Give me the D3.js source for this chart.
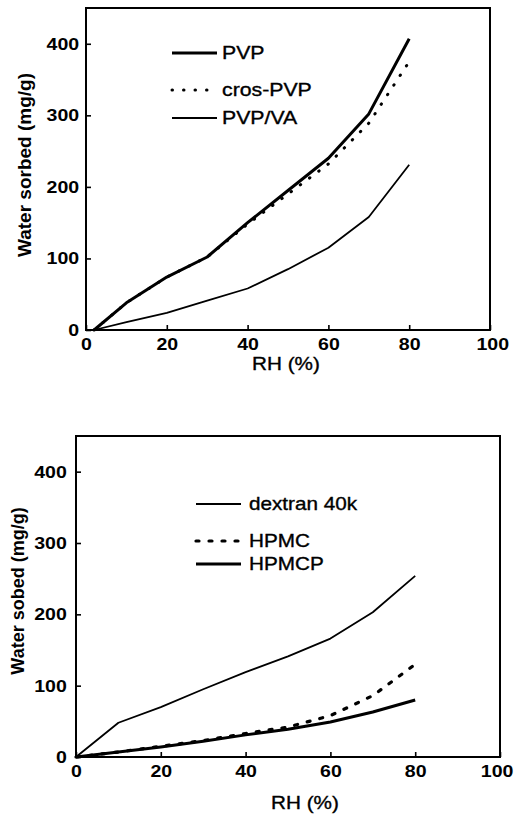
<!DOCTYPE html>
<html>
<head>
<meta charset="utf-8">
<script src="https://cdn.jsdelivr.net/npm/d3@7"></script>
<style>
    body { margin: 0; background: #fff; }
    svg text { font-family: "Liberation Sans", Arial, sans-serif; fill: #000; }
</style>
</head>
<body>
<svg id="chart" width="515" height="821"></svg>
<script>
// values
const rhTop = [2, 10, 20, 30, 40, 50, 60, 70, 80];
const pvp = [0, 38, 74, 102, 150, 195, 240, 302, 407];
const crosPvp = [0, 38, 74, 102, 148, 190, 232, 289, 375];
const pvpVa = [0, 11, 24, 41, 58, 85, 115, 158, 231];

const rhBottom = [0, 10, 20, 30, 40, 50, 60, 70, 80];
const dextran = [0, 48, 70, 95, 119, 141, 166, 203, 254];
const hpmc = [0, 7, 15, 23, 33, 42, 58, 86, 130];
const hpmcp = [0, 7, 14, 22, 31, 39, 49, 63, 80];

const xTicks = [0, 20, 40, 60, 80, 100];
const yTicks = [0, 100, 200, 300, 400];

const STRETCH = 1.15; // the scan is a bit wider than it is tall

let lineStyles = {
    thick: {width: 3, dash: null, cap: "butt"},
    thin: {width: 1.8, dash: null, cap: "butt"},
    dots: {width: 3, dash: "0.5,11", cap: "round"},
    dashes: {width: 3.2, dash: "3,10", cap: "round"}
};

class SorptionPanel {

    constructor (svg, opts) {
        this.svg = svg;
        this.opts = opts;
        this.draw();
    }

    draw () {
        let o = this.opts;
        let g = this.svg.append("g");

        let x = d3.scaleLinear().domain([0, 100]).range([o.left, o.right]);
        let y = d3.scaleLinear().domain([0, 450]).range([o.bottom, o.top]);

        // series
        let line = d3.line()
            .x(d => x(d[0]))
            .y(d => y(d[1]));

        o.series.forEach(s => {
            let st = lineStyles[s.style];
            g.append("path")
                .datum(s.rh.map((r, i) => [r, s.values[i]]))
                .attr("d", line)
                .attr("fill", "none")
                .attr("stroke", "#000")
                .attr("stroke-width", st.width)
                .attr("stroke-linecap", st.cap)
                .attr("stroke-linejoin", "round")
                .attr("stroke-dasharray", st.dash);
        });

        // axes
        let xaxis = g.append("g")
            .attr("transform", "translate(0," + o.bottom + ")")
            .call(d3.axisBottom(x).tickValues(xTicks).tickSizeInner(-5).tickSizeOuter(0).tickPadding(8));
        let yaxis = g.append("g")
            .attr("transform", "translate(" + o.left + ",0)")
            .call(d3.axisLeft(y).tickValues(yTicks).tickSizeInner(-5).tickSizeOuter(0).tickPadding(o.yPad));

        [xaxis, yaxis].forEach(ax => {
            ax.select(".domain").remove();
            ax.selectAll(".tick line").attr("stroke", "#000").attr("stroke-width", 1.6);
            ax.selectAll(".tick text")
                .attr("font-size", 17)
                .attr("font-weight", "bold")
                .attr("font-family", "Liberation Sans, Arial, sans-serif")
                .attr("fill", "#000")
                .attr("transform", "scale(" + STRETCH + ",1)");
        });

        // the last x label sits right at the page edge, nudge it in
        xaxis.selectAll(".tick text")
            .filter(d => d === 100)
            .attr("x", o.lastTickShift);

        // frame
        g.append("rect")
            .attr("x", o.left)
            .attr("y", o.top)
            .attr("width", o.right - o.left)
            .attr("height", o.bottom - o.top)
            .attr("fill", "none")
            .attr("stroke", "#000")
            .attr("stroke-width", 2);

        // axis titles
        g.append("text")
            .attr("transform", "translate(" + o.xTitleX + "," + o.xTitleY + ") scale(" + STRETCH + ",1)")
            .attr("text-anchor", "middle")
            .attr("dy", "0.35em")
            .attr("font-size", 18)
            .attr("stroke", "#000")
            .attr("stroke-width", 0.35)
            .text("RH (%)");

        g.append("text")
            .attr("transform", "translate(" + o.yTitleX + "," + o.yTitleY + ") rotate(-90)")
            .attr("text-anchor", "middle")
            .attr("dy", "0.35em")
            .attr("font-size", o.yTitleSize)
            .attr("font-weight", "bold")
            .text(o.yTitle);

        // legend
        o.series.forEach((s, i) => {
            let st = lineStyles[s.style];
            let ly = o.legendY[i];
            g.append("line")
                .attr("x1", o.legendX1)
                .attr("x2", o.legendX2)
                .attr("y1", ly)
                .attr("y2", ly)
                .attr("stroke", "#000")
                .attr("stroke-width", st.width)
                .attr("stroke-linecap", st.cap)
                .attr("stroke-dasharray", st.dash);
            g.append("text")
                .attr("transform", "translate(" + o.legendText + "," + ly + ") scale(" + STRETCH + ",1)")
                .attr("dy", "0.35em")
                .attr("font-size", o.legendSize)
                .attr("stroke", "#000")
                .attr("stroke-width", 0.35)
                .text(s.name);
        });
    }

}

let svg = d3.select("#chart");

new SorptionPanel(svg, {
    left: 86, right: 490, top: 8, bottom: 330,
    yPad: 6, lastTickShift: 2,
    xTitleX: 286, xTitleY: 364,
    yTitleX: 24, yTitleY: 165, yTitleSize: 19,
    yTitle: "Water sorbed (mg/g)",
    legendX1: 172, legendX2: 217, legendText: 222, legendSize: 18.5,
    legendY: [53, 90, 118],
    series: [
        {name: "PVP", rh: rhTop, values: pvp, style: "thick"},
        {name: "cros-PVP", rh: rhTop, values: crosPvp, style: "dots"},
        {name: "PVP/VA", rh: rhTop, values: pvpVa, style: "thin"}
    ]
});

new SorptionPanel(svg, {
    left: 76, right: 500, top: 436, bottom: 757,
    yPad: 8, lastTickShift: -3,
    xTitleX: 305, xTitleY: 803,
    yTitleX: 18, yTitleY: 591, yTitleSize: 18,
    yTitle: "Water sobed (mg/g)",
    legendX1: 196, legendX2: 241, legendText: 249, legendSize: 18,
    legendY: [504, 541, 564],
    series: [
        {name: "dextran 40k", rh: rhBottom, values: dextran, style: "thin"},
        {name: "HPMC", rh: rhBottom, values: hpmc, style: "dashes"},
        {name: "HPMCP", rh: rhBottom, values: hpmcp, style: "thick"}
    ]
});
</script>
</body>
</html>
